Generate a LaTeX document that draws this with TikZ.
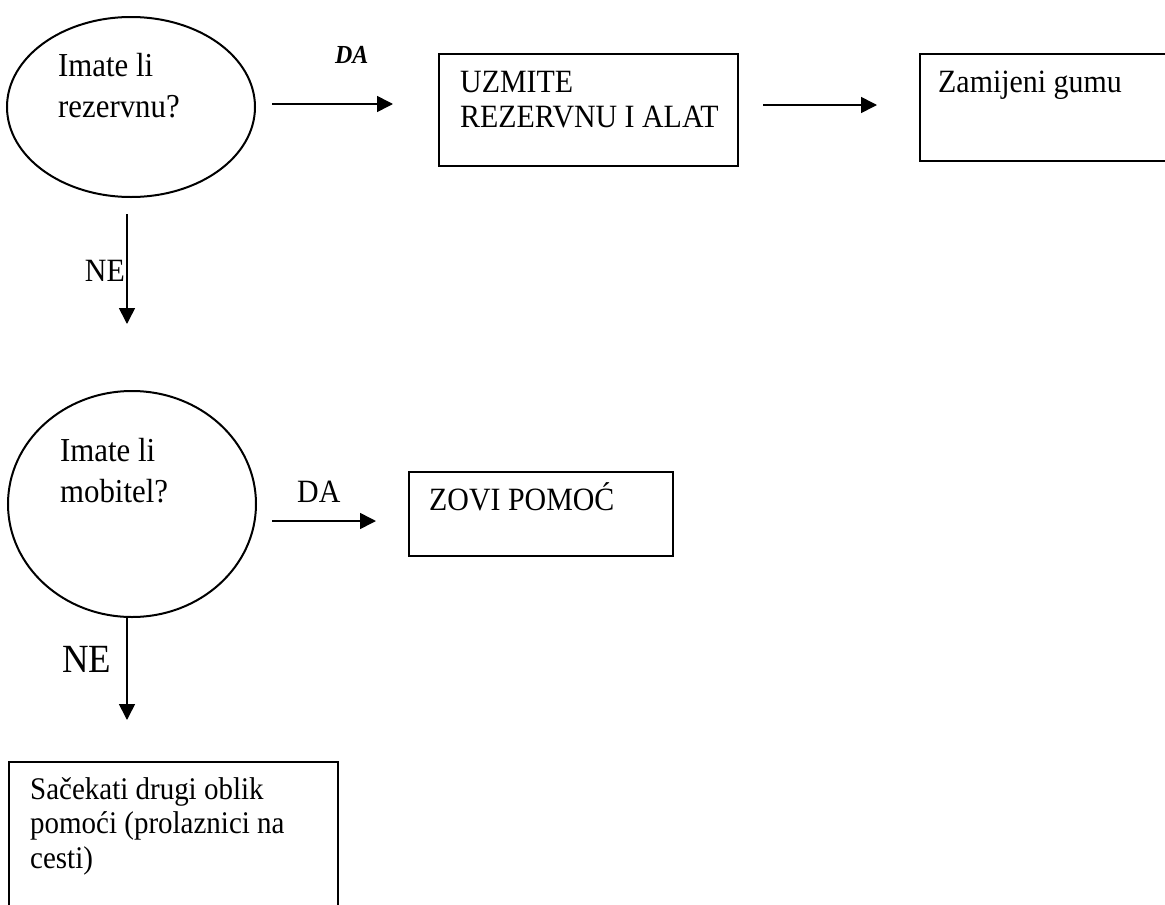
\documentclass[tikz,border=0pt]{standalone}
\usepackage{fontspec}
\setmainfont{Liberation Serif}[FakeStretch=0.92]
\usetikzlibrary{shapes.geometric,arrows.meta}
\newcommand{\stack}[1]{\begin{tabular}[t]{@{}l@{}}#1\end{tabular}}
\begin{document}
\begin{tikzpicture}[x=1pt,y=-1pt,
  ell/.style={ellipse,draw=black,line width=2pt,inner sep=0pt},
  rbox/.style={rectangle,draw=black,line width=2pt,inner sep=0pt,anchor=north west},
  txt/.style={inner sep=0pt,anchor=base west,font=\fontsize{32.5}{35}\selectfont},
  etxt/.style={inner sep=0pt,anchor=base west,font=\fontsize{33.5}{41.5}\selectfont},
  arr/.style={line width=1.6pt,-{Triangle[length=16pt,width=16pt]}}
]
\useasboundingbox (0,0) rectangle (1165,905);
\fill[white] (0,0) rectangle (1165,905);
\clip (0,0) rectangle (1165,905);

% shapes
\node[ell,minimum width=248pt,minimum height=180pt] (e1) at (131,107) {};
\node[ell,minimum width=248pt,minimum height=226pt] (e2) at (132,504) {};
\node[rbox,minimum width=299pt,minimum height=112pt] (b1) at (438,53) {};
\node[rbox,minimum width=300pt,minimum height=107pt] (b2) at (919,53) {};
\node[rbox,minimum width=264pt,minimum height=84pt] (b3) at (408,471) {};
\node[rbox,minimum width=329pt,minimum height=200pt] (b4) at (8,761) {};

% texts
\node[etxt] (t1) at (58,76) {\stack{Imate li\\rezervnu?}};
\node[etxt] (t2) at (60,461) {\stack{Imate li\\mobitel?}};
\node[txt] (t3) at (460,92) {\stack{UZMITE\\REZERVNU I ALAT}};
\node[txt] (t4) at (938,92) {Zamijeni gumu};
\node[txt] (t5) at (429,510) {ZOVI POMOĆ};
\node[txt,font=\fontsize{31.5}{34.5}\selectfont] (t6) at (30,799) {\stack{Sačekati drugi oblik\\pomoći (prolaznici na\\cesti)}};

% connector end points
\coordinate (a1s) at (272,104);
\coordinate (a1e) at (393,104);
\coordinate (a2s) at (763,105);
\coordinate (a2e) at (877,105);
\coordinate (a3s) at (127,214);
\coordinate (a3e) at (127,324);
\coordinate (a4s) at (272,521);
\coordinate (a4e) at (376,521);
\coordinate (a5s) at (127,618);
\coordinate (a5e) at (127,720);

\draw[arr] (a1s) -- (a1e);
\draw[arr] (a2s) -- (a2e);
\draw[arr] (a3s) -- (a3e);
\draw[arr] (a4s) -- (a4e);
\draw[arr] (a5s) -- (a5e);

% labels
\node[txt,font=\fontsize{26}{28}\selectfont\bfseries\itshape] (l1) at (335,63) {DA};
\node[txt,anchor=base east] (l2) at (125,281) {NE};
\node[txt] (l3) at (297,502) {DA};
\node[txt,font=\fontsize{40}{44}\selectfont] (l4) at (62,672) {NE};
\end{tikzpicture}
\end{document}
